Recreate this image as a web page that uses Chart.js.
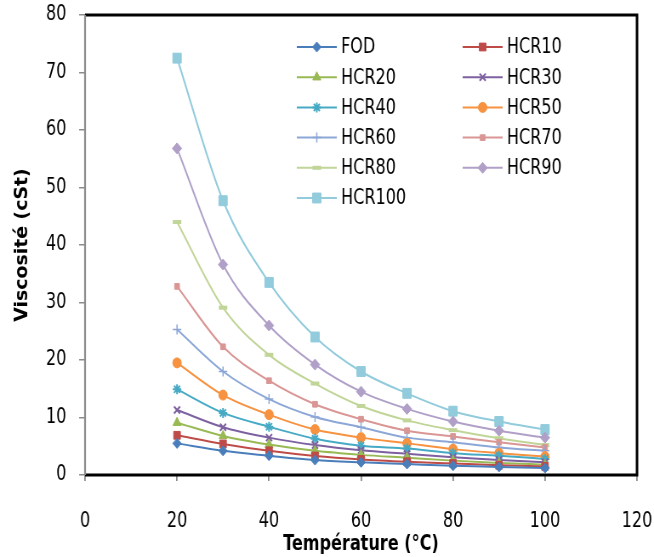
<!DOCTYPE html>
<html>
<head>
<meta charset="utf-8">
<script src="https://cdn.jsdelivr.net/npm/chart.js@4/dist/chart.umd.min.js"></script>
<style>
html,body{margin:0;padding:0;background:#fff;}
#wrap{width:654px;height:557px;position:relative;overflow:hidden;}
</style>
</head>
<body>
<div id="wrap"><canvas id="c" width="769" height="557" style="width:654px;height:557px;display:block;"></canvas></div>
<script>
const temperatures = [20, 30, 40, 50, 60, 70, 80, 90, 100];
const seriesNames = ['FOD','HCR10','HCR20','HCR30','HCR40','HCR50','HCR60','HCR70','HCR80','HCR90','HCR100'];
const FOD    = [5.5, 4.2, 3.35, 2.6, 2.2, 1.9, 1.6, 1.4, 1.2];
const HCR10  = [6.9, 5.4, 4.2, 3.3, 2.7, 2.3, 2.0, 1.7, 1.5];
const HCR20  = [9.1, 6.8, 5.3, 4.2, 3.5, 3.0, 2.5, 2.1, 1.8];
const HCR30  = [11.3, 8.3, 6.5, 5.2, 4.3, 3.7, 3.1, 2.6, 2.2];
const HCR40  = [14.9, 10.8, 8.4, 6.3, 5.1, 4.6, 3.8, 3.35, 2.8];
const HCR50  = [19.5, 13.9, 10.5, 7.9, 6.5, 5.5, 4.5, 3.8, 3.2];
const HCR60  = [25.3, 18.0, 13.2, 10.1, 8.3, 6.5, 5.7, 4.8, 4.2];
const HCR70  = [32.8, 22.3, 16.4, 12.3, 9.7, 7.7, 6.7, 5.7, 4.8];
const HCR80  = [44.0, 29.1, 20.9, 15.9, 12.0, 9.5, 7.8, 6.4, 5.2];
const HCR90  = [56.8, 36.6, 26.0, 19.2, 14.5, 11.5, 9.3, 7.7, 6.5];
const HCR100 = [72.5, 47.7, 33.5, 24.0, 18.0, 14.2, 11.1, 9.3, 7.9];
const seriesValues = [FOD, HCR10, HCR20, HCR30, HCR40, HCR50, HCR60, HCR70, HCR80, HCR90, HCR100];
const xTicks = [0, 20, 40, 60, 80, 100, 120];
const yTicks = [0, 10, 20, 30, 40, 50, 60, 70, 80];

const colors = ['#4A7EBB','#BE4B48','#98B954','#7D60A0','#46AAC5','#F69240','#8CA7D7','#D99694','#C0D597','#B0A0C8','#91CBDC'];
const styles = [
  {s:'rectRot', r:5, w:1},
  {s:'rect', r:5.5, w:1},
  {s:'triangle', r:5.5, w:1},
  {s:'crossRot', r:5, w:2},
  {s:'star', r:5, w:2},
  {s:'circle', r:5, w:1},
  {s:'cross', r:5, w:1.5},
  {s:'rect', r:4, w:1},
  {s:'line', r:5, w:4},
  {s:'rectRot', r:5.5, w:1},
  {s:'rect', r:7, w:1}
];
const FONT = "'DejaVu Sans Condensed','DejaVu Sans',sans-serif";

const datasets = seriesNames.map((n, i) => ({
  label: n,
  data: temperatures.map((t, j) => ({x: t, y: seriesValues[i][j]})),
  borderColor: colors[i],
  backgroundColor: colors[i],
  pointBackgroundColor: colors[i],
  pointBorderColor: colors[i],
  pointStyle: styles[i].s,
  pointRadius: styles[i].r,
  pointBorderWidth: styles[i].w,
  borderWidth: 2,
  cubicInterpolationMode: 'monotone',
  fill: false
}));

const frame = {
  id: 'frame',
  afterDraw(chart) {
    const {ctx, chartArea: a} = chart;
    ctx.save();
    ctx.strokeStyle = '#000';
    ctx.lineWidth = 3;
    ctx.beginPath();
    ctx.moveTo(a.left, a.top);
    ctx.lineTo(a.right, a.top);
    ctx.lineTo(a.right, a.bottom);
    ctx.lineTo(a.left, a.bottom);
    ctx.stroke();
    ctx.strokeStyle = '#8c8c8c';
    ctx.lineWidth = 2.2;
    ctx.beginPath();
    ctx.moveTo(a.left, a.top);
    ctx.lineTo(a.left, a.bottom);
    ctx.stroke();
    ctx.restore();
  }
};

const legendPlugin = {
  id: 'customLegend',
  afterDraw(chart) {
    const ctx = chart.ctx;
    ctx.save();
    ctx.textBaseline = 'middle';
    chart.data.datasets.forEach((ds, i) => {
      const col = i % 2, row = Math.floor(i / 2);
      const x0 = col === 0 ? 349 : 544;
      const y = 47 + row * 30.2;
      ctx.strokeStyle = ds.borderColor;
      ctx.fillStyle = ds.borderColor;
      ctx.lineWidth = 2;
      ctx.beginPath();
      ctx.moveTo(x0, y);
      ctx.lineTo(x0 + 47, y);
      ctx.stroke();
      ctx.lineWidth = ds.pointBorderWidth;
      Chart.helpers.drawPoint(ctx, {
        pointStyle: ds.pointStyle, radius: ds.pointRadius, rotation: 0,
        borderWidth: ds.pointBorderWidth
      }, x0 + 23.5, y);
      ctx.font = "21px " + FONT;
      ctx.fillStyle = '#000';
      ctx.fillText(ds.label, x0 + 52, y + 1);
    });
    ctx.restore();
  }
};

new Chart(document.getElementById('c'), {
  type: 'line',
  data: {datasets},
  plugins: [frame, legendPlugin],
  options: {
    responsive: false,
    animation: false,
    devicePixelRatio: 1,
    layout: {padding: {left: 0, top: 15, right: 20, bottom: 0}, autoPadding: false},
    plugins: {legend: {display: false}, tooltip: {enabled: false}},
    scales: {
      x: {
        type: 'linear', min: 0, max: 120,
        afterBuildTicks(s) { s.ticks = xTicks.map(v => ({value: v})); },
        afterFit(s) { s.height = 82; s.paddingLeft = 0; s.paddingRight = 0; },
        grid: {drawOnChartArea: false, drawTicks: true, tickLength: 6, color: '#8c8c8c', lineWidth: 1.8},
        border: {display: false},
        ticks: {padding: 28, color: '#000', font: {family: FONT, size: 21}, maxRotation: 0},
        title: {display: true, text: 'Température (°C)', color: '#000', font: {family: FONT, size: 21, weight: 'bold'}, padding: {top: 0, bottom: 0}}
      },
      y: {
        type: 'linear', min: 0, max: 80,
        afterBuildTicks(s) { s.ticks = yTicks.map(v => ({value: v})); },
        afterFit(s) { s.width = 100; s.paddingTop = 0; s.paddingBottom = 0; },
        grid: {drawOnChartArea: false, drawTicks: true, tickLength: 7, color: '#8c8c8c', lineWidth: 1.5},
        border: {display: false},
        ticks: {padding: 15, color: '#000', font: {family: FONT, size: 21}},
        title: {display: true, text: 'Viscosité (cSt)', color: '#000', font: {family: FONT, size: 21, weight: 'bold'}, padding: {top: 14.4, bottom: 0}}
      }
    }
  }
});
</script>
</body>
</html>
